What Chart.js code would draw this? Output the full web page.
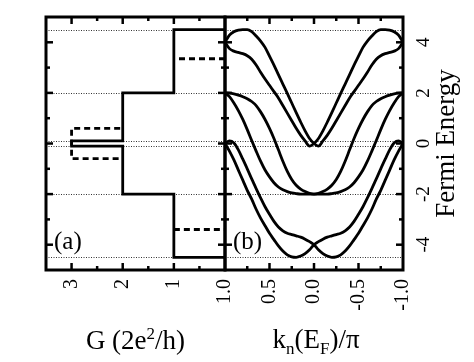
<!DOCTYPE html>
<html>

<head>
    <title>Conductance and Band Structure</title>
    <style type="text/css">
        body {
            margin: 0;
            background: #fff;
        }

        #wrap {
            position: relative;
            width: 474px;
            height: 362px;
            overflow: hidden;
        }

        canvas {
            position: absolute;
            left: 0;
            top: 0;
        }

        .axis-title {
            position: absolute;
            font-family: 'Liberation Serif', serif;
            font-size: 27px;
            line-height: 27px;
            color: #000;
            text-align: center;
            white-space: nowrap;
        }

        .axis-title sup,
        .axis-title sub {
            font-size: 17px;
            line-height: 0;
        }
    </style>
    <script src="https://cdn.jsdelivr.net/npm/chart.js@4.4.0/dist/chart.umd.min.js"></script>
</head>

<body>
    <div id="wrap">
        <canvas id="chartA" width="474" height="362"></canvas>
        <canvas id="chartB" width="474" height="362"></canvas>
        <div class="axis-title" style="left:46px; top:327px; width:179px;">G (2e<sup>2</sup>/h)</div>
        <div class="axis-title" style="left:227px; top:326px; width:178px;">k<sub>n</sub>(E<sub>F</sub>)/&pi;</div>
    </div>

    <script>
        // horizontal dotted lines (band edges)
        var bandEdges = [4.5, 2, 0.1, -0.1, -2, -4.5];
        var energyMajor = [4, 2, 0, -2, -4];
        var energyMinor = [3, 1, -1, -3];

        // panel (a): conductance steps
        var stepG = [0, 1, 1, 2, 2, 3, 3, 2, 2, 1, 1, 0];
        var stepE = [4.5, 4.5, 2, 2, 0.1, 0.1, -0.1, -0.1, -2, -2, -4.5, -4.5];
        var dashTopG = [0, 1];
        var dashTopE = [3.35, 3.35];
        var dashMidG = [2.05, 3, 3, 2.05];
        var dashMidE = [0.6, 0.6, -0.6, -0.6];
        var dashLowG = [1, 0];
        var dashLowE = [-3.4, -3.4];
        var gMajor = [1, 2, 3];
        var gMinor = [0.5, 1.5, 2.5];

        // panel (b): bands, k in units of pi
        var kValues = [1.0, 0.95, 0.9, 0.85, 0.8, 0.75, 0.7, 0.65, 0.6, 0.55, 0.5, 0.45, 0.4, 0.35, 0.3, 0.25, 0.2, 0.15, 0.1, 0.05, 0.0,
            -0.05, -0.1, -0.15, -0.2, -0.25, -0.3, -0.35, -0.4, -0.45, -0.5, -0.55, -0.6, -0.65, -0.7, -0.75, -0.8, -0.85, -0.9, -0.95, -1.0];
        var bandTop1 = [4.0, 4.28, 4.42, 4.48, 4.5, 4.5, 4.42, 4.25, 4.05, 3.8, 3.45, 3.1, 2.72, 2.35, 1.98, 1.6, 1.22, 0.85, 0.5, 0.2, 0.0,
            -0.1, 0.1, 0.33, 0.6, 0.9, 1.2, 1.5, 1.8, 2.05, 2.3, 2.55, 2.82, 3.1, 3.33, 3.47, 3.55, 3.6, 3.65, 3.75, 4.0];
        var bandTop2 = [4.0, 3.75, 3.65, 3.6, 3.55, 3.47, 3.33, 3.1, 2.82, 2.55, 2.3, 2.05, 1.8, 1.5, 1.2, 0.9, 0.6, 0.33, 0.1, -0.1, 0.0,
            0.2, 0.5, 0.85, 1.22, 1.6, 1.98, 2.35, 2.72, 3.1, 3.45, 3.8, 4.05, 4.25, 4.42, 4.5, 4.5, 4.48, 4.42, 4.28, 4.0];
        var bandMid1 = [2.0, 1.99, 1.96, 1.91, 1.85, 1.77, 1.66, 1.5, 1.25, 0.95, 0.6, 0.2, -0.25, -0.7, -1.1, -1.42, -1.65, -1.8, -1.9, -1.97, -2.0,
            -1.97, -1.9, -1.8, -1.65, -1.42, -1.1, -0.7, -0.25, 0.2, 0.6, 0.95, 1.25, 1.5, 1.66, 1.77, 1.85, 1.91, 1.96, 1.99, 2.0];
        var bandMid2 = [2.0, 1.85, 1.6, 1.3, 0.95, 0.55, 0.12, -0.3, -0.7, -1.05, -1.32, -1.55, -1.72, -1.83, -1.9, -1.95, -1.98, -2.0, -2.0, -2.0, -2.0,
            -2.0, -2.0, -2.0, -1.98, -1.95, -1.9, -1.83, -1.72, -1.55, -1.32, -1.05, -0.7, -0.3, 0.12, 0.55, 0.95, 1.3, 1.6, 1.85, 2.0];
        var bandLow1 = [0.0, 0.1, 0.02, -0.25, -0.62, -1.0, -1.4, -1.78, -2.15, -2.5, -2.8, -3.08, -3.3, -3.45, -3.55, -3.6, -3.65, -3.7, -3.78, -3.88, -4.0,
            -4.2, -4.35, -4.45, -4.5, -4.48, -4.4, -4.25, -4.05, -3.8, -3.55, -3.25, -2.95, -2.6, -2.2, -1.85, -1.45, -1.05, -0.65, -0.3, 0.0];
        var bandLow2 = [0.0, -0.3, -0.65, -1.05, -1.45, -1.85, -2.2, -2.6, -2.95, -3.25, -3.55, -3.8, -4.05, -4.25, -4.4, -4.48, -4.5, -4.45, -4.35, -4.2, -4.0,
            -3.88, -3.78, -3.7, -3.65, -3.6, -3.55, -3.45, -3.3, -3.08, -2.8, -2.5, -2.15, -1.78, -1.4, -1.0, -0.62, -0.25, 0.02, 0.1, 0.0];
        var kMajor = [0.5, 0, -0.5];
        var kMinor = [0.75, 0.25, -0.25, -0.75];

        var serif = 'Liberation Serif';

        function toPoints(xs, ys) {
            return xs.map(function (x, i) { return { x: x, y: ys[i] }; });
        }

        function lineSet(xs, ys, dashed, smooth) {
            return {
                data: toPoints(xs, ys),
                showLine: true,
                borderColor: '#000',
                borderWidth: 2.8,
                borderDash: dashed ? [6, 4] : [],
                pointRadius: 0,
                cubicInterpolationMode: smooth ? 'monotone' : 'default',
                tension: 0
            };
        }

        function seg(ctx, x1, y1, x2, y2) {
            ctx.beginPath();
            ctx.moveTo(x1, y1);
            ctx.lineTo(x2, y2);
            ctx.stroke();
        }

        var framePlugin = {
            id: 'frame',
            beforeDatasetsDraw: function (chart) {
                var ctx = chart.ctx, a = chart.chartArea, ys = chart.scales.y;
                ctx.save();
                ctx.strokeStyle = '#333';
                ctx.lineWidth = 1;
                ctx.setLineDash([1, 1.5]);
                bandEdges.forEach(function (e) {
                    var y = Math.round(ys.getPixelForValue(e)) + 0.5;
                    seg(ctx, a.left, y, a.right, y);
                });
                ctx.restore();
            },
            afterDatasetsDraw: function (chart, args, opts) {
                var ctx = chart.ctx, a = chart.chartArea, xs = chart.scales.x, ys = chart.scales.y;
                ctx.save();
                ctx.strokeStyle = '#000';
                ctx.fillStyle = '#000';
                ctx.lineWidth = 2.5;
                opts.xMajor.forEach(function (v) {
                    var x = xs.getPixelForValue(v);
                    seg(ctx, x, a.top, x, a.top + 7);
                    seg(ctx, x, a.bottom, x, a.bottom - 7);
                });
                opts.xMinor.forEach(function (v) {
                    var x = xs.getPixelForValue(v);
                    seg(ctx, x, a.top, x, a.top + 4);
                    seg(ctx, x, a.bottom, x, a.bottom - 4);
                });
                energyMajor.forEach(function (v) {
                    var y = ys.getPixelForValue(v);
                    seg(ctx, a.left, y, a.left + 7, y);
                    seg(ctx, a.right, y, a.right - 7, y);
                });
                energyMinor.forEach(function (v) {
                    var y = ys.getPixelForValue(v);
                    seg(ctx, a.left, y, a.left + 4, y);
                    seg(ctx, a.right, y, a.right - 4, y);
                });
                ctx.lineWidth = 3;
                ctx.strokeRect(a.left, a.top, a.right - a.left, a.bottom - a.top);

                ctx.font = '25px "' + serif + '"';
                ctx.textAlign = 'left';
                ctx.textBaseline = 'middle';
                ctx.fillText(opts.tag, a.left + 8, a.bottom - 28);

                if (opts.rightLabels) {
                    ctx.textAlign = 'center';
                    ctx.font = '19px "' + serif + '"';
                    energyMajor.forEach(function (v) {
                        ctx.save();
                        ctx.translate(a.right + 21, ys.getPixelForValue(v));
                        ctx.rotate(-Math.PI / 2);
                        ctx.fillText(String(v), 0, 0);
                        ctx.restore();
                    });
                    ctx.font = '27px "' + serif + '"';
                    ctx.translate(a.right + 44, (a.top + a.bottom) / 2);
                    ctx.rotate(-Math.PI / 2);
                    ctx.fillText('Fermi Energy', 0, 0);
                }
                ctx.restore();
            }
        };

        function baseOptions(pad, xOpts, frameOpts) {
            return {
                responsive: false,
                animation: false,
                events: [],
                layout: { padding: pad },
                plugins: {
                    legend: { display: false },
                    tooltip: { enabled: false },
                    frame: frameOpts
                },
                scales: {
                    x: Object.assign({
                        type: 'linear',
                        reverse: true,
                        grid: { display: false, drawTicks: false },
                        border: { display: false },
                        afterFit: function (s) { s.height = 92; }
                    }, xOpts),
                    y: { type: 'linear', min: -5, max: 5, display: false }
                }
            };
        }

        new Chart(document.getElementById('chartA'), {
            type: 'scatter',
            data: {
                datasets: [
                    lineSet(stepG, stepE, false, false),
                    lineSet(dashTopG, dashTopE, true, false),
                    lineSet(dashMidG, dashMidE, true, false),
                    lineSet(dashLowG, dashLowE, true, false)
                ]
            },
            options: baseOptions({ left: 46, top: 17, right: 249, bottom: 0 }, {
                min: 0,
                max: 3.5,
                ticks: {
                    stepSize: 0.5,
                    autoSkip: false,
                    minRotation: 90,
                    maxRotation: 90,
                    padding: 9,
                    color: '#000',
                    font: { family: serif, size: 20 },
                    callback: function (v) { return gMajor.indexOf(v) >= 0 ? String(v) : ''; }
                }
            }, { xMajor: gMajor, xMinor: gMinor, tag: '(a)', rightLabels: false }),
            plugins: [framePlugin]
        });

        new Chart(document.getElementById('chartB'), {
            type: 'scatter',
            data: {
                datasets: [bandTop1, bandTop2, bandMid1, bandMid2, bandLow1, bandLow2].map(function (b) {
                    return lineSet(kValues, b, false, true);
                })
            },
            options: baseOptions({ left: 225, top: 17, right: 71, bottom: 0 }, {
                min: -1,
                max: 1,
                ticks: {
                    stepSize: 0.25,
                    autoSkip: false,
                    minRotation: 90,
                    maxRotation: 90,
                    padding: 9,
                    color: '#000',
                    font: { family: serif, size: 20 },
                    callback: function (v) {
                        return Math.abs(v * 2 - Math.round(v * 2)) < 1e-9 ? v.toFixed(1) : '';
                    }
                }
            }, { xMajor: kMajor, xMinor: kMinor, tag: '(b)', rightLabels: true }),
            plugins: [framePlugin]
        });
    </script>
</body>

</html>
